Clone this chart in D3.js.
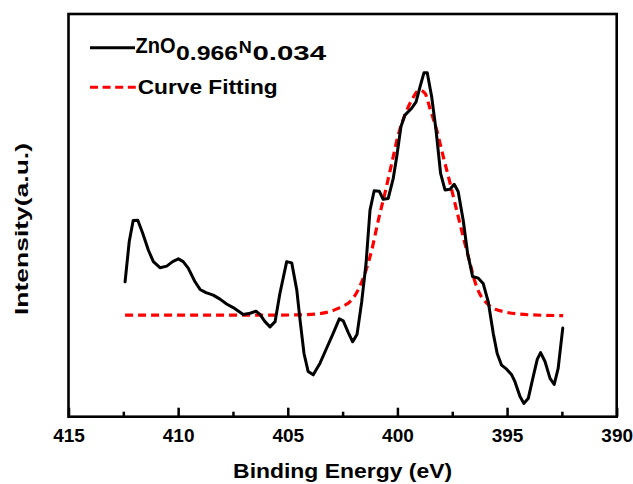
<!DOCTYPE html>
<html>
<head>
<meta charset="utf-8">
<script src="https://cdn.jsdelivr.net/npm/d3@7/dist/d3.min.js"></script>
<style>
  html, body { margin: 0; padding: 0; background: #fff; }
  svg text { font-family: "Liberation Sans", Arial, sans-serif; font-weight: bold; fill: #000; }
</style>
</head>
<body>
<svg id="chart" width="633" height="484"></svg>
<script>
// N 1s XPS spectrum of ZnO0.966N0.034 (binding energy in eV, intensity in a.u.)
const measuredEnergy = [
  412.42, 412.23, 412.05, 411.84, 411.62, 411.36, 411.13, 410.83, 410.52, 410.25,
  409.99, 409.77, 409.54, 409.23, 409.00, 408.73, 408.40, 408.09, 407.79, 407.49,
  407.03, 406.72, 406.45, 406.27, 406.04, 405.81, 405.58, 405.36, 405.05, 404.82,
  404.59, 404.44, 404.26, 404.07, 403.84, 403.53, 403.23, 402.93, 402.65, 402.47,
  402.24, 402.04, 401.84, 401.63, 401.43, 401.25, 401.06, 400.83, 400.65, 400.42,
  400.19, 400.03, 399.84, 399.66, 399.35, 399.15, 398.97, 398.79, 398.64, 398.44,
  398.24, 398.03, 397.83, 397.60, 397.41, 397.23, 397.00, 396.80, 396.57, 396.31,
  396.09, 395.86, 395.63, 395.45, 395.25, 395.02, 394.79, 394.64, 394.41, 394.23,
  394.03, 393.81, 393.62, 393.47, 393.27, 393.04, 392.85, 392.67, 392.46
];
const measuredIntensity = [
  33.5, 43.5, 48.7, 48.8, 45.6, 41.4, 38.5, 37.0, 37.4, 38.5,
  39.2, 38.5, 36.9, 33.5, 31.6, 30.8, 30.2, 29.2, 28.0, 27.1,
  25.4, 25.7, 26.2, 25.4, 23.6, 22.3, 23.6, 30.6, 38.5, 38.2,
  31.5, 24.0, 15.7, 11.2, 10.4, 13.3, 17.0, 20.7, 24.3, 23.8,
  20.9, 18.6, 20.5, 28.5, 38.1, 51.3, 56.1, 56.0, 54.0, 54.2,
  59.2, 64.6, 72.0, 74.9, 76.6, 78.2, 81.9, 85.4, 85.4, 79.5,
  71.2, 60.4, 56.3, 56.5, 57.7, 55.9, 48.8, 40.6, 34.8, 34.4,
  33.1, 28.6, 20.7, 15.7, 12.8, 11.8, 10.4, 8.7, 5.0, 3.3,
  4.6, 9.9, 14.3, 15.9, 13.7, 9.5, 8.0, 12.0, 22.0
];

// Fitted peak
const fitEnergy = [
  412.42, 409.00, 406.27, 404.44, 403.53, 403.08, 402.70, 402.39, 402.16, 401.79,
  401.48, 401.17, 400.87, 400.57, 400.26, 399.96, 399.66, 399.35, 399.00, 398.74,
  398.52, 398.21, 397.91, 397.60, 397.30, 397.00, 396.69, 396.39, 395.93, 395.17,
  393.96, 392.44
];
const fitIntensity = [
  25.2, 25.2, 25.2, 25.3, 25.6, 26.1, 26.9, 27.7, 28.6, 31.5,
  35.6, 41.4, 48.8, 55.5, 62.9, 70.0, 74.9, 78.6, 81.1, 80.3,
  76.6, 71.2, 64.6, 58.0, 51.3, 44.7, 38.1, 32.3, 28.2, 26.1,
  25.3, 25.1
];

const majorTicks = [415, 410, 405, 400, 395, 390];
const minorTicks = [412.5, 407.5, 402.5, 397.5, 392.5];
const seriesNames = ["ZnO", "0.966", "N", "0.034"];
const fitName = "Curve Fitting";
const xTitle = "Binding Energy (eV)";
const yTitle = "Intensity(a.u.)";

const svg = d3.select("#chart");
const plotLeft = 68.5, plotRight = 616.7, plotTop = 14, plotBottom = 416.7;

const x = d3.scaleLinear().domain([415, 390]).range([plotLeft, plotRight]);
const y = d3.scaleLinear().domain([0, 100]).range([plotBottom, plotTop]);

// Bottom axis: major ticks with labels, minor ticks without, all pointing inward
const axisMajor = d3.axisBottom(x).tickValues(majorTicks).tickSizeInner(-9).tickSizeOuter(0)
  .tickPadding(11.5).tickFormat(d3.format("d"));
const gMajor = svg.append("g").attr("transform", `translate(0,${plotBottom})`).call(axisMajor);
gMajor.select(".domain").remove();
gMajor.selectAll(".tick line").attr("stroke", "#000").attr("stroke-width", 2.5);
gMajor.selectAll(".tick text").attr("font-size", 19).attr("fill", "#000")
  .style("font-family", "'Liberation Sans', Arial, sans-serif").style("font-weight", "bold");

const axisMinor = d3.axisBottom(x).tickValues(minorTicks).tickSizeInner(-5).tickSizeOuter(0).tickFormat("");
const gMinor = svg.append("g").attr("transform", `translate(0,${plotBottom})`).call(axisMinor);
gMinor.select(".domain").remove();
gMinor.selectAll(".tick line").attr("stroke", "#000").attr("stroke-width", 2.5);

// Frame
svg.append("rect")
  .attr("x", plotLeft).attr("y", plotTop)
  .attr("width", plotRight - plotLeft).attr("height", plotBottom - plotTop)
  .attr("fill", "none").attr("stroke", "#000").attr("stroke-width", 2.6);

// Fitted curve
const fitData = fitEnergy.map((e, i) => [e, fitIntensity[i]]);
svg.append("path")
  .datum(fitData)
  .attr("fill", "none").attr("stroke", "#ff0000").attr("stroke-width", 3.2)
  .attr("stroke-dasharray", "8,5")
  .attr("d", d3.line().x(d => x(d[0])).y(d => y(d[1])).curve(d3.curveMonotoneX));

// Measured spectrum
const measured = measuredEnergy.map((e, i) => [e, measuredIntensity[i]]);
svg.append("path")
  .datum(measured)
  .attr("fill", "none").attr("stroke", "#000").attr("stroke-width", 3)
  .attr("stroke-linejoin", "round").attr("stroke-linecap", "round")
  .attr("d", d3.line().x(d => x(d[0])).y(d => y(d[1])));

// Legend
svg.append("line").attr("x1", 90).attr("x2", 135).attr("y1", 47.7).attr("y2", 47.7)
  .attr("stroke", "#000").attr("stroke-width", 3);
svg.append("line").attr("x1", 90).attr("x2", 136).attr("y1", 87.3).attr("y2", 87.3)
  .attr("stroke", "#ff0000").attr("stroke-width", 3).attr("stroke-dasharray", "8,4.6");

const legendParts = [
  { t: seriesNames[0], x: 135.5, y: 53.3, size: 22, len: 40 },
  { t: seriesNames[1], x: 176, y: 60.3, size: 21, len: 62 },
  { t: seriesNames[2], x: 238.8, y: 52.5, size: 16, len: 13 },
  { t: seriesNames[3], x: 252.5, y: 60.3, size: 21, len: 73.5 }
];
legendParts.forEach(p => {
  svg.append("text").attr("x", p.x).attr("y", p.y).attr("font-size", p.size)
    .attr("textLength", p.len).attr("lengthAdjust", "spacingAndGlyphs").text(p.t);
});
svg.append("text").attr("x", 137.7).attr("y", 94).attr("font-size", 21)
  .attr("textLength", 140).attr("lengthAdjust", "spacingAndGlyphs").text(fitName);

// Axis titles
svg.append("text").attr("x", (plotLeft + plotRight) / 2 - 109.5).attr("y", 478).attr("font-size", 21)
  .attr("textLength", 219).attr("lengthAdjust", "spacingAndGlyphs").text(xTitle);
svg.append("text")
  .attr("transform", `translate(28.3,${229 + 86}) rotate(-90)`)
  .attr("x", 0).attr("y", 0).attr("font-size", 19)
  .attr("textLength", 172).attr("lengthAdjust", "spacingAndGlyphs").text(yTitle);
</script>
</body>
</html>
